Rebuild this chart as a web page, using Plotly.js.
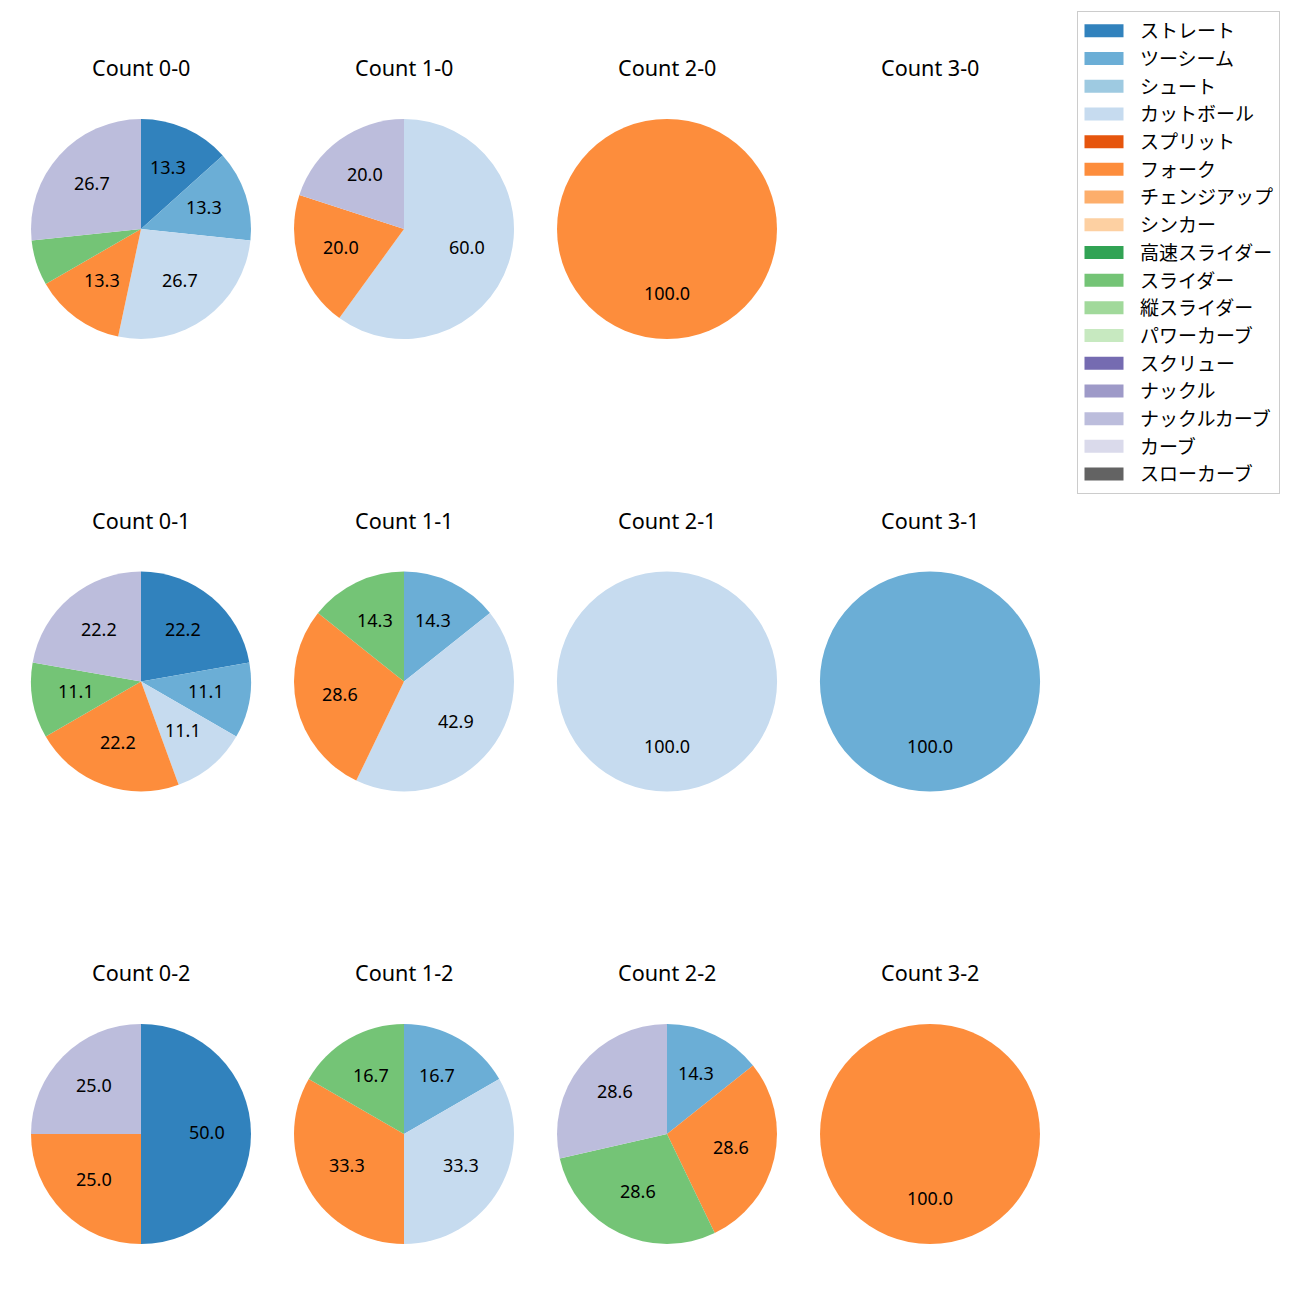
<!DOCTYPE html>
<html>
<head>
<meta charset="utf-8">
<script src="https://cdn.plot.ly/plotly-3.0.1.min.js"></script>
<style>html,body{margin:0;padding:0;background:#fff;}#chart{width:1300px;height:1300px;}</style>
</head>
<body>
<div id="chart"></div>
<script>
// ---- data ----
const pitchTypes = ['ストレート','ツーシーム','シュート','カットボール','スプリット','フォーク','チェンジアップ','シンカー','高速スライダー','スライダー','縦スライダー','パワーカーブ','スクリュー','ナックル','ナックルカーブ','カーブ','スローカーブ'];
const pitchColors = ['#3182bd','#6baed6','#9ecae1','#c6dbef','#e6550d','#fd8d3c','#fdae6b','#fdd0a2','#31a354','#74c476','#a1d99b','#c7e9c0','#756bb1','#9e9ac8','#bcbddc','#dadaeb','#636363'];
const countTitles = ['Count 0-0','Count 1-0','Count 2-0','Count 3-0','Count 0-1','Count 1-1','Count 2-1','Count 3-1','Count 0-2','Count 1-2','Count 2-2','Count 3-2'];
const c00 = [2,2,0,4,0,2,0,0,0,1,0,0,0,0,4,0,0];
const c10 = [0,0,0,3,0,1,0,0,0,0,0,0,0,0,1,0,0];
const c20 = [0,0,0,0,0,1,0,0,0,0,0,0,0,0,0,0,0];
const c30 = [0,0,0,0,0,0,0,0,0,0,0,0,0,0,0,0,0];
const c01 = [2,1,0,1,0,2,0,0,0,1,0,0,0,0,2,0,0];
const c11 = [0,1,0,3,0,2,0,0,0,1,0,0,0,0,0,0,0];
const c21 = [0,0,0,1,0,0,0,0,0,0,0,0,0,0,0,0,0];
const c31 = [0,1,0,0,0,0,0,0,0,0,0,0,0,0,0,0,0];
const c02 = [2,0,0,0,0,1,0,0,0,0,0,0,0,0,1,0,0];
const c12 = [0,1,0,2,0,2,0,0,0,1,0,0,0,0,0,0,0];
const c22 = [0,1,0,0,0,2,0,0,0,2,0,0,0,0,2,0,0];
const c32 = [0,0,0,0,0,1,0,0,0,0,0,0,0,0,0,0,0];
const countValues = [c00,c10,c20,c30,c01,c11,c21,c31,c02,c12,c22,c32];

// ---- layout constants ----
const W = 1300, H = 1300;
const colCenters = [141, 404, 667, 930];
const rowCenters = [229, 681.5, 1134];
const titleY = [68, 520, 972];
const R = 110;
const FONT = '"Noto Sans", "Noto Sans CJK JP", sans-serif';
const JFONT = '"Noto Sans CJK JP", "Noto Sans", sans-serif';

const traces = [];
const annotations = [];
countValues.forEach((vals, k) => {
  const col = k % 4, row = Math.floor(k / 4);
  const cx = colCenters[col], cy = rowCenters[row];
  annotations.push({
    text: countTitles[k], xref: 'paper', yref: 'paper',
    x: cx / W, y: 1 - titleY[row] / H, xanchor: 'center', yanchor: 'middle',
    showarrow: false, font: {family: FONT, size: 21.6, color: '#000'}
  });
  const total = vals.reduce((a, b) => a + b, 0);
  if (total > 0) {
    traces.push({
      type: 'pie', labels: pitchTypes, values: vals, sort: false,
      direction: 'clockwise', rotation: 0,
      marker: {colors: pitchColors, line: {width: 0}},
      textinfo: 'none', hoverinfo: 'label+percent',
      showlegend: k === 0,
      domain: {x: [(cx - R) / W, (cx + R) / W], y: [1 - (cy + R) / H, 1 - (cy - R) / H]}
    });
    let cum = 0;
    vals.forEach(v => {
      if (v <= 0) return;
      const frac = v / total;
      const mid = (90 - (cum + frac / 2) * 360) * Math.PI / 180;
      cum += frac;
      const pct = frac * 100;
      if (pct < 10) return;
      annotations.push({
        text: pct.toFixed(1), xref: 'paper', yref: 'paper',
        x: (cx + 0.6 * R * Math.cos(mid)) / W,
        y: 1 - (cy - 0.6 * R * Math.sin(mid) - 2) / H,
        xanchor: 'center', yanchor: 'middle', showarrow: false,
        font: {family: FONT, size: 18, color: '#000'}
      });
    });
  }
});

const layout = {
  width: W, height: H,
  margin: {l: 0, r: 0, t: 0, b: 0},
  paper_bgcolor: '#fff',
  font: {family: FONT, color: '#000'},
  showlegend: true,
  legend: {
    x: 1077 / W, y: 1 - 11 / H, xanchor: 'left', yanchor: 'top',
    bgcolor: '#fff', bordercolor: '#cccccc', borderwidth: 1,
    font: {family: JFONT, size: 19, color: '#000'},
    traceorder: 'normal', itemwidth: 52
  },
  annotations: annotations
};

Plotly.newPlot('chart', traces, layout, {displayModeBar: false, staticPlot: true}).then(gd => {
  // widen legend swatches to matplotlib-like rectangles
  gd.querySelectorAll('.legend .legendpoints path').forEach(p => {
    p.setAttribute('d', 'M-24.5,-6.5h39v13h-39Z');
  });
});
</script>
</body>
</html>
